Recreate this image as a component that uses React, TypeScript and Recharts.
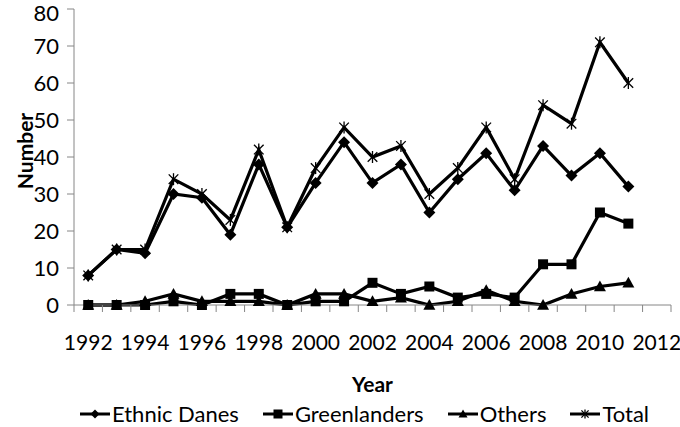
import { Label, Line, LineChart, XAxis, YAxis } from "recharts";

const years = [1992, 1993, 1994, 1995, 1996, 1997, 1998, 1999, 2000, 2001, 2002, 2003, 2004, 2005, 2006, 2007, 2008, 2009, 2010, 2011];
const ethnicDanes = [8, 15, 14, 30, 29, 19, 38, 21, 33, 44, 33, 38, 25, 34, 41, 31, 43, 35, 41, 32];
const greenlanders = [0, 0, 0, 1, 0, 3, 3, 0, 1, 1, 6, 3, 5, 2, 3, 2, 11, 11, 25, 22];
const others = [0, 0, 1, 3, 1, 1, 1, 0, 3, 3, 1, 2, 0, 1, 4, 1, 0, 3, 5, 6];
const total = [8, 15, 15, 34, 30, 23, 42, 21, 37, 48, 40, 43, 30, 37, 48, 34, 54, 49, 71, 60];

const yearTicks = [1992, 1994, 1996, 1998, 2000, 2002, 2004, 2006, 2008, 2010, 2012];
const numberTicks = [0, 10, 20, 30, 40, 50, 60, 70, 80];

const data = years.map((year, i) => ({
  year,
  ethnicDanes: ethnicDanes[i],
  greenlanders: greenlanders[i],
  others: others[i],
  total: total[i],
}));

// Excel-style category axis: tick marks sit between years, labels in the middle
const firstYear = yearTicks[0];
const lastYear = yearTicks[yearTicks.length - 1];
const boundaries: number[] = [];
for (let y = firstYear; y <= lastYear + 1; y++) boundaries.push(y - 0.5);
const domain: [number, number] = [firstYear - 0.5, lastYear + 0.5];

const AXIS = "#868686";
const FONT = "Lato, 'Open Sans', sans-serif";

function Diamond({ cx, cy, s = 6 }: any) {
  if (cx == null || cy == null) return null;
  return <path d={`M${cx},${cy - s}L${cx + s},${cy}L${cx},${cy + s}L${cx - s},${cy}Z`} fill="#000" />;
}

function Square({ cx, cy, s = 5 }: any) {
  if (cx == null || cy == null) return null;
  return <rect x={cx - s} y={cy - s} width={s * 2} height={s * 2} fill="#000" />;
}

function Triangle({ cx, cy, s = 6 }: any) {
  if (cx == null || cy == null) return null;
  return <path d={`M${cx},${cy - s}L${cx + s},${cy + s * 0.8}L${cx - s},${cy + s * 0.8}Z`} fill="#000" />;
}

function Star({ cx, cy, s = 6 }: any) {
  if (cx == null || cy == null) return null;
  const d = s * 0.8;
  return (
    <g stroke="#000" strokeWidth={1.3}>
      <line x1={cx - d} y1={cy - d} x2={cx + d} y2={cy + d} />
      <line x1={cx - d} y1={cy + d} x2={cx + d} y2={cy - d} />
      <line x1={cx} y1={cy - s} x2={cx} y2={cy + s} />
    </g>
  );
}

function YearTick(props: any) {
  const { x, y, payload, width, visibleTicksCount } = props;
  const year = payload.value + 0.5;
  if (!yearTicks.includes(year)) return null;
  const axisWidth = Number(width) || 597;
  const step = axisWidth / ((visibleTicksCount || boundaries.length) - 1);
  return (
    <text x={x + step / 2} y={y} dy="0.71em" textAnchor="middle" fontSize={21} fontFamily={FONT} fill="#000">
      {year}
    </text>
  );
}

const legendItems = [
  { name: "Ethnic Danes", Marker: Diamond },
  { name: "Greenlanders", Marker: Square },
  { name: "Others", Marker: Triangle },
  { name: "Total", Marker: Star },
];

function YTitle({ viewBox }: any) {
  const { x, y, height } = viewBox;
  const cx = x + 24;
  const cy = y + height / 2 - 6;
  return (
    <text
      x={cx}
      y={cy}
      transform={`rotate(-90, ${cx}, ${cy})`}
      textAnchor="middle"
      dominantBaseline="central"
      fontFamily={FONT}
      fontWeight="bold"
      fontSize={21}
      fill="#000"
    >
      Number
    </text>
  );
}

function XTitle({ viewBox }: any) {
  const { x, y, width } = viewBox;
  return (
    <text x={x + width / 2} y={y + 87} textAnchor="middle" fontFamily={FONT} fontWeight="bold" fontSize={21} fill="#000">
      Year
    </text>
  );
}

export default function App() {
  return (
    <div style={{ position: "absolute", left: 0, top: 0, width: 680, height: 427, background: "#fff", fontFamily: FONT }}>
      <LineChart width={680} height={427} data={data} margin={{ top: 9, right: 9, left: 0, bottom: 0 }}>
        <XAxis
          dataKey="year"
          type="number"
          domain={domain}
          ticks={boundaries}
          interval={0}
          tick={<YearTick />}
          tickSize={7}
          tickMargin={23}
          stroke={AXIS}
          height={122}
        >
          <Label content={<XTitle />} />
        </XAxis>
        <YAxis
          domain={[0, 80]}
          ticks={numberTicks}
          tickSize={7}
          tickMargin={8}
          stroke={AXIS}
          tick={{ fontSize: 22, fill: "#000", fontFamily: FONT }}
          width={74}
        >
          <Label content={<YTitle />} />
        </YAxis>
        <Line dataKey="ethnicDanes" stroke="#000" strokeWidth={3.2} dot={<Diamond />} isAnimationActive={false} />
        <Line dataKey="greenlanders" stroke="#000" strokeWidth={3.2} dot={<Square />} isAnimationActive={false} />
        <Line dataKey="others" stroke="#000" strokeWidth={3.2} dot={<Triangle />} isAnimationActive={false} />
        <Line dataKey="total" stroke="#000" strokeWidth={3.2} dot={<Star />} isAnimationActive={false} />
      </LineChart>
      <div
        style={{
          position: "absolute",
          left: 80,
          top: 403,
          display: "flex",
          gap: 24,
          fontSize: 22,
          lineHeight: "22px",
          whiteSpace: "nowrap",
        }}
      >
        {legendItems.map(({ name, Marker }) => (
          <div key={name} style={{ display: "flex", alignItems: "center" }}>
            <svg width={30} height={14} style={{ marginRight: 2 }}>
              <line x1={0} y1={7} x2={30} y2={7} stroke="#000" strokeWidth={3} />
              <Marker cx={15} cy={7} s={4.5} />
            </svg>
            <span>{name}</span>
          </div>
        ))}
      </div>
    </div>
  );
}
